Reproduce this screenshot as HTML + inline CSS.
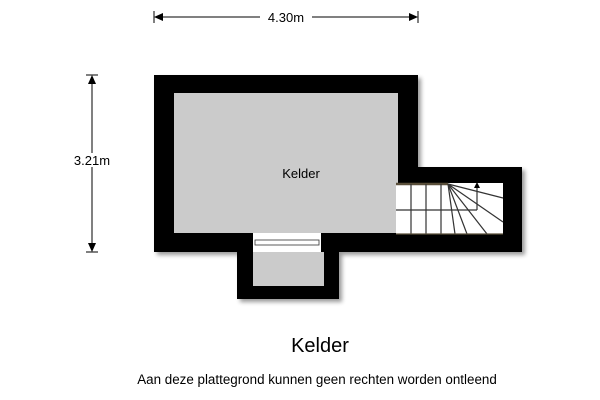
<!DOCTYPE html>
<html><head><style>
html,body{margin:0;padding:0;background:#fff;}
body{width:600px;height:400px;overflow:hidden;position:relative;font-family:"Liberation Sans",sans-serif;}
</style></head><body>
<svg width="600" height="400" viewBox="0 0 600 400" style="position:absolute;left:0;top:0">
<defs>
<filter id="sh" x="-10%" y="-10%" width="130%" height="130%"><feGaussianBlur in="SourceAlpha" stdDeviation="2"/><feOffset dx="3" dy="3"/><feComponentTransfer><feFuncA type="linear" slope="0.4"/></feComponentTransfer><feMerge><feMergeNode/><feMergeNode in="SourceGraphic"/></feMerge></filter>
</defs>
<g filter="url(#sh)">
<rect x="154" y="75" width="264" height="177" fill="#000"/>
<rect x="396" y="167" width="126" height="85" fill="#000"/>
<rect x="237" y="240" width="102" height="59" fill="#000"/>
</g>
<rect x="174" y="93" width="224" height="140" fill="#cbcbcb"/>
<rect x="253" y="252" width="71" height="34" fill="#cbcbcb"/>
<rect x="253" y="233" width="68" height="19" fill="#fff"/>
<rect x="255" y="240" width="64" height="5" fill="none" stroke="#333" stroke-width="0.8"/>
<rect x="396" y="183" width="107" height="51" fill="#fff"/>
<g stroke="#333" stroke-width="1.2" fill="none">
<line x1="396" y1="184" x2="448" y2="184" stroke="#5a4f3a" stroke-width="2.5"/>
<line x1="411" y1="184" x2="411" y2="234"/>
<line x1="426" y1="184" x2="426" y2="234"/>
<line x1="441" y1="184" x2="441" y2="234"/>
<line x1="396" y1="210" x2="477" y2="210"/>
<line x1="477" y1="210" x2="477" y2="187"/>
<line x1="448" y1="184" x2="455" y2="234"/>
<line x1="448" y1="184" x2="467" y2="234"/>
<line x1="448" y1="184" x2="487" y2="234"/>
<line x1="448" y1="184" x2="503" y2="222"/>
<line x1="448" y1="184" x2="503" y2="198"/>
<line x1="396" y1="234" x2="503" y2="234" stroke="#5a4f3a"/>
</g>
<polygon points="477,182 474,188 480,188" fill="#000"/>
<text x="301" y="178" font-size="13" text-anchor="middle" fill="#000">Kelder</text>
<g stroke="#000" stroke-width="1">
<line x1="156" y1="17" x2="416" y2="17"/>
<line x1="154" y1="11" x2="154" y2="23"/>
<line x1="418" y1="11" x2="418" y2="23"/>
<line x1="92" y1="77" x2="92" y2="250"/>
<line x1="86" y1="75" x2="98" y2="75"/>
<line x1="86" y1="252" x2="98" y2="252"/>
</g>
<polygon points="154,17 163,13 163,21" fill="#000"/>
<polygon points="418,17 409,13 409,21" fill="#000"/>
<polygon points="92,75 88,84 96,84" fill="#000"/>
<polygon points="92,252 88,243 96,243" fill="#000"/>
<rect x="260" y="10" width="52" height="14" fill="#fff"/>
<text x="286" y="22" font-size="13" text-anchor="middle">4.30m</text>
<rect x="68" y="153" width="48" height="14" fill="#fff"/>
<text x="92" y="165" font-size="13" text-anchor="middle">3.21m</text>
<text x="320" y="352" font-size="20" text-anchor="middle">Kelder</text>
<text x="317" y="384" font-size="13.4" text-anchor="middle">Aan deze plattegrond kunnen geen rechten worden ontleend</text>
</svg>
</body></html>
